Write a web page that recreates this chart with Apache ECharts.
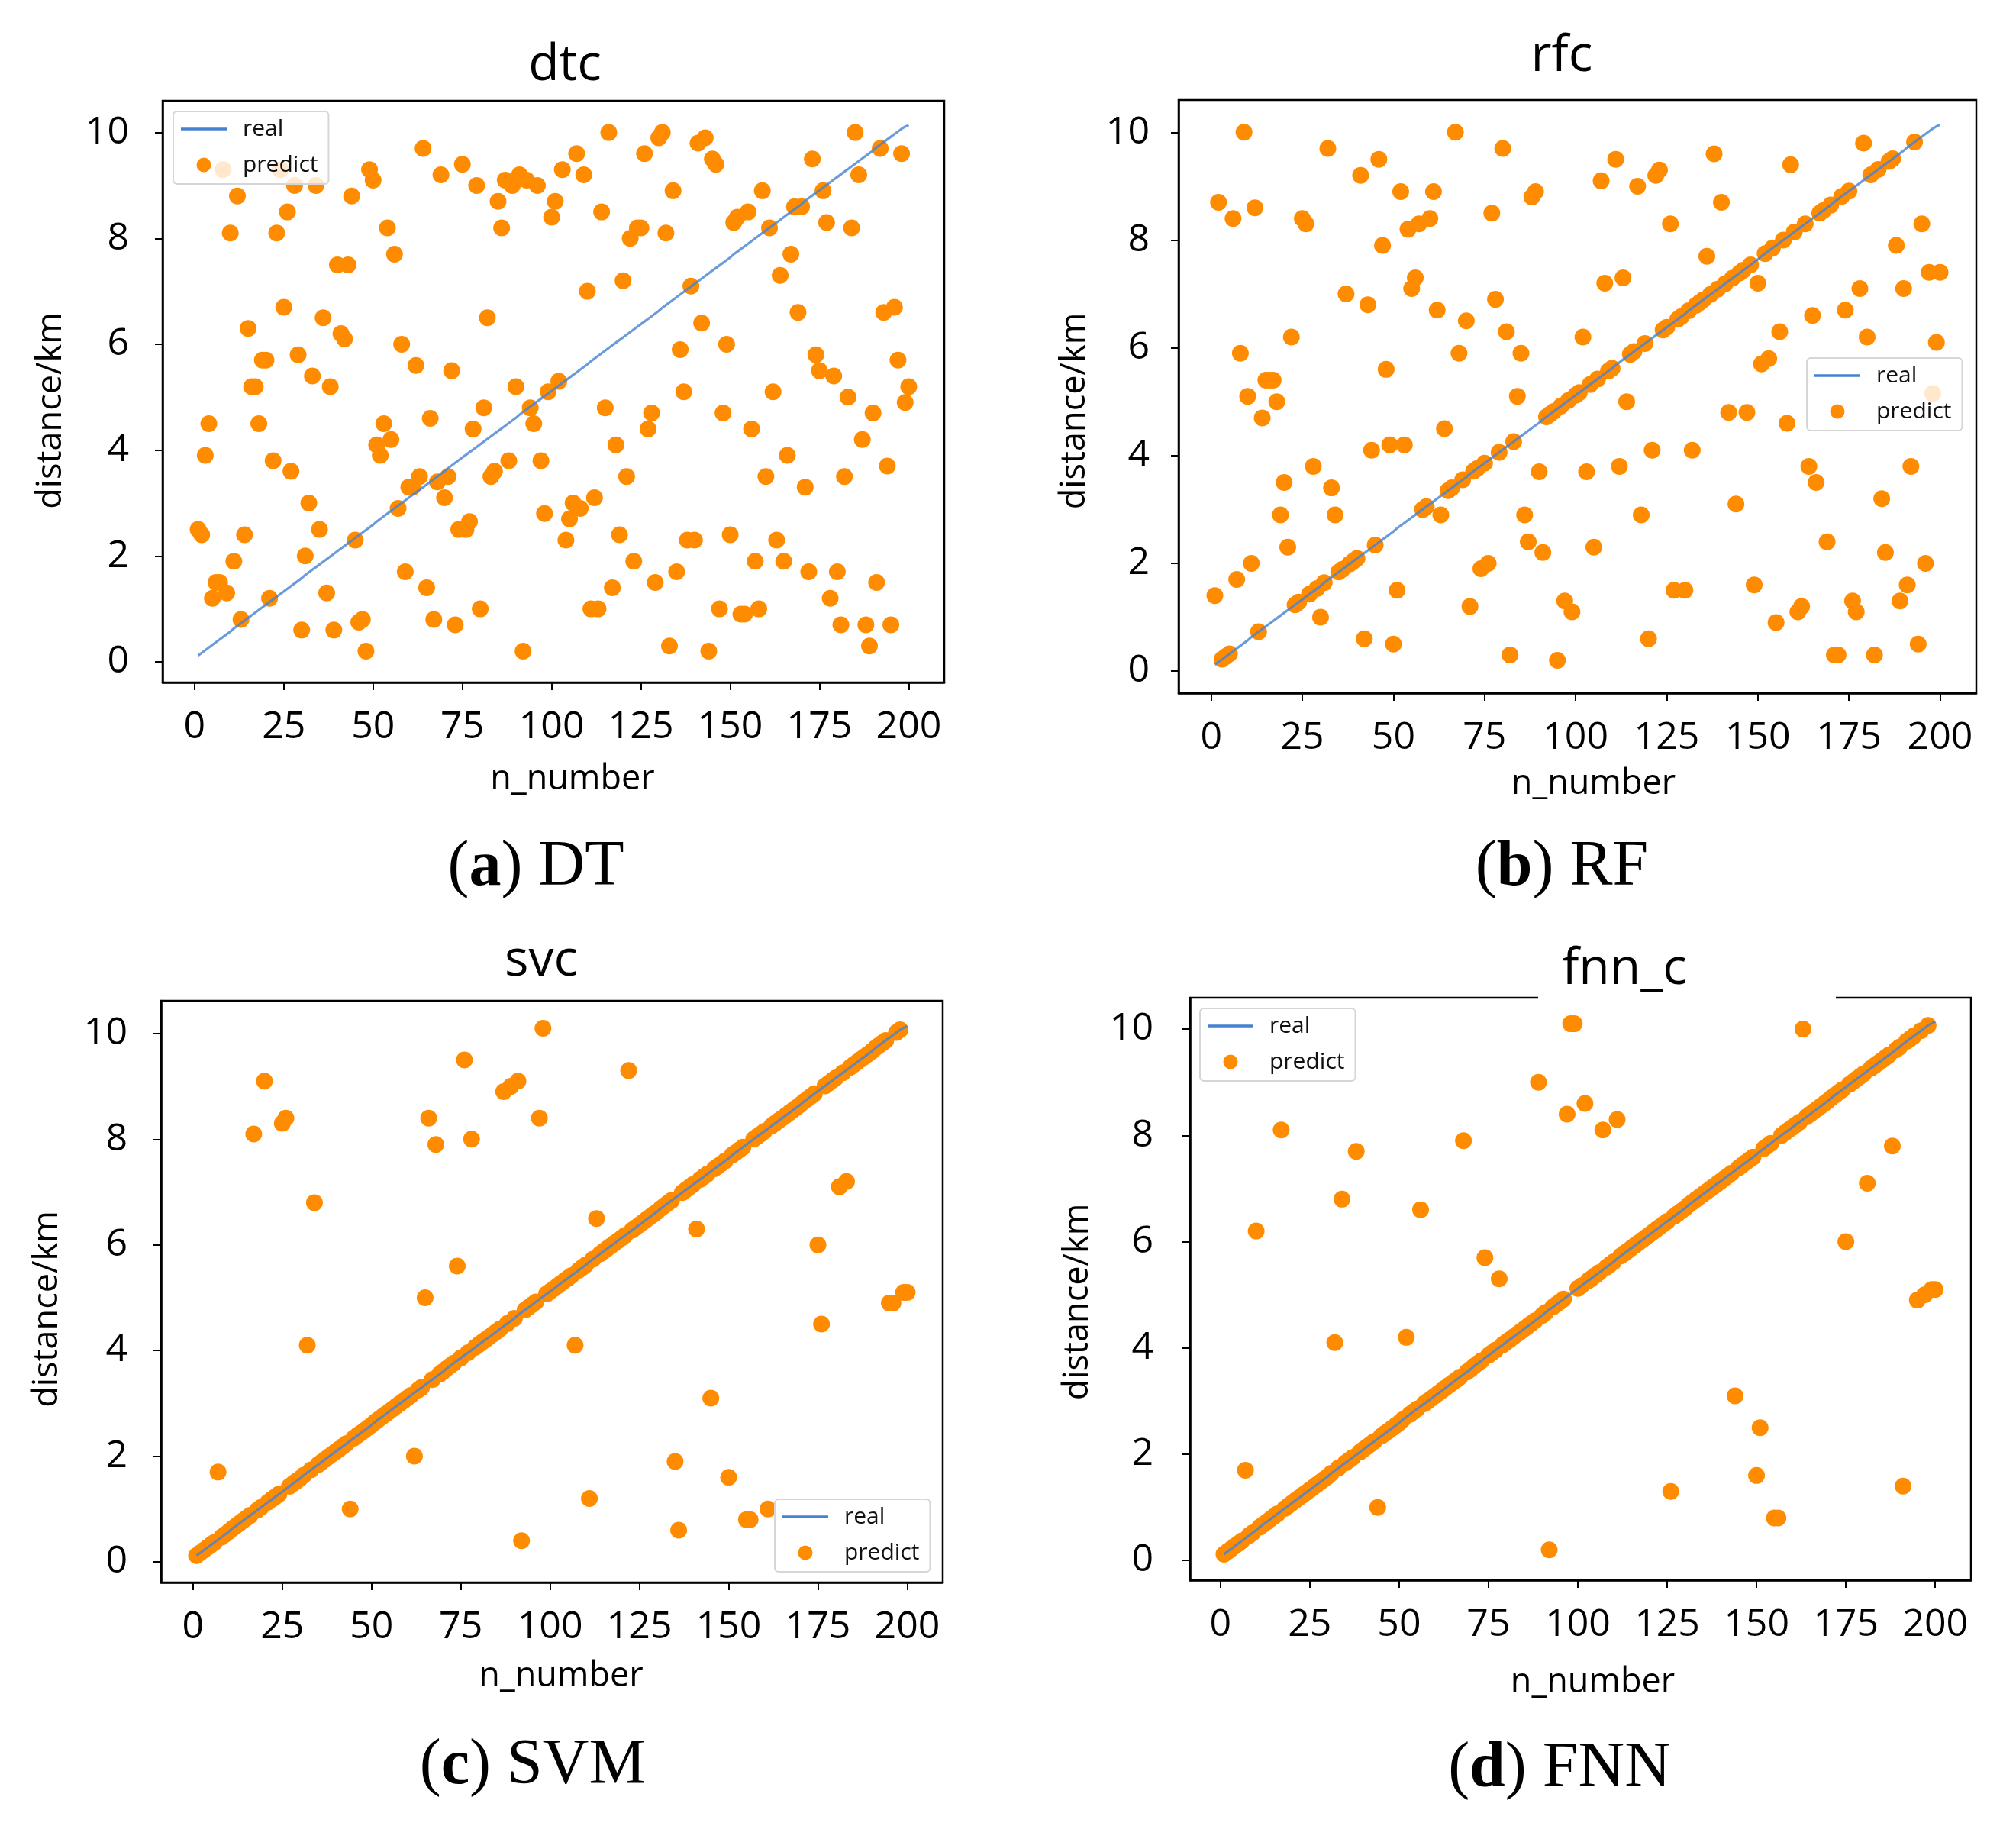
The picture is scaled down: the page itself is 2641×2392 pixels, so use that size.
<!DOCTYPE html>
<html>
<head>
<meta charset="utf-8">
<title>distance prediction</title>
<script src="https://cdn.jsdelivr.net/npm/echarts@6.0.0/dist/echarts.min.js"></script>
<style>
  html, body { margin: 0; padding: 0; background: #fff; }
  #chart { width: 2641px; height: 2392px; }
</style>
</head>
<body>
<div id="chart"></div>
<script>
// tick labels
const xTicks = [0, 25, 50, 75, 100, 125, 150, 175, 200];
const yTicks = [0, 2, 4, 6, 8, 10];

// real distance for n_number 1..200 (the blue line)
const realKm = [
  0.12, 0.17, 0.22, 0.27, 0.32, 0.37, 0.42, 0.47, 0.52, 0.57,
  0.63, 0.68, 0.73, 0.78, 0.83, 0.88, 0.93, 0.98, 1.03, 1.08,
  1.13, 1.18, 1.23, 1.28, 1.33, 1.38, 1.43, 1.48, 1.53, 1.58,
  1.64, 1.69, 1.74, 1.79, 1.84, 1.89, 1.94, 1.99, 2.04, 2.09,
  2.14, 2.19, 2.24, 2.29, 2.34, 2.39, 2.44, 2.49, 2.54, 2.59,
  2.65, 2.70, 2.75, 2.80, 2.85, 2.90, 2.95, 3.00, 3.05, 3.10,
  3.15, 3.20, 3.25, 3.30, 3.35, 3.40, 3.45, 3.50, 3.55, 3.60,
  3.66, 3.71, 3.76, 3.81, 3.86, 3.91, 3.96, 4.01, 4.06, 4.11,
  4.16, 4.21, 4.26, 4.31, 4.36, 4.41, 4.46, 4.51, 4.56, 4.61,
  4.67, 4.72, 4.77, 4.82, 4.87, 4.92, 4.97, 5.02, 5.07, 5.12,
  5.17, 5.22, 5.27, 5.32, 5.37, 5.42, 5.47, 5.52, 5.57, 5.62,
  5.68, 5.73, 5.78, 5.83, 5.88, 5.93, 5.98, 6.03, 6.08, 6.13,
  6.18, 6.23, 6.28, 6.33, 6.38, 6.43, 6.48, 6.53, 6.58, 6.63,
  6.69, 6.74, 6.79, 6.84, 6.89, 6.94, 6.99, 7.04, 7.09, 7.14,
  7.19, 7.24, 7.29, 7.34, 7.39, 7.44, 7.49, 7.54, 7.59, 7.64,
  7.70, 7.75, 7.80, 7.85, 7.90, 7.95, 8.00, 8.05, 8.10, 8.15,
  8.20, 8.25, 8.30, 8.35, 8.40, 8.45, 8.50, 8.55, 8.60, 8.65,
  8.71, 8.76, 8.81, 8.86, 8.91, 8.96, 9.01, 9.06, 9.11, 9.16,
  9.21, 9.26, 9.31, 9.36, 9.41, 9.46, 9.51, 9.56, 9.61, 9.66,
  9.72, 9.77, 9.82, 9.87, 9.92, 9.97, 10.02, 10.07, 10.11, 10.14
];

// dtc: predicted distance for every n_number 1..200
const dtcPredict = [
  2.5, 2.4, 3.9, 4.5, 1.2, 1.5, 1.5, 9.3, 1.3, 8.1,
  1.9, 8.8, 0.8, 2.4, 6.3, 5.2, 5.2, 4.5, 5.7, 5.7,
  1.2, 3.8, 8.1, 9.3, 6.7, 8.5, 3.6, 9.0, 5.8, 0.6,
  2.0, 3.0, 5.4, 9.0, 2.5, 6.5, 1.3, 5.2, 0.6, 7.5,
  6.2, 6.1, 7.5, 8.8, 2.3, 0.75, 0.8, 0.2, 9.3, 9.1,
  4.1, 3.9, 4.5, 8.2, 4.2, 7.7, 2.9, 6.0, 1.7, 3.3,
  3.3, 5.6, 3.5, 9.7, 1.4, 4.6, 0.8, 3.4, 9.2, 3.1,
  3.5, 5.5, 0.7, 2.5, 9.4, 2.5, 2.65, 4.4, 9.0, 1.0,
  4.8, 6.5, 3.5, 3.6, 8.7, 8.2, 9.1, 3.8, 9.0, 5.2,
  9.2, 0.2, 9.1, 4.8, 4.5, 9.0, 3.8, 2.8, 5.1, 8.4,
  8.7, 5.3, 9.3, 2.3, 2.7, 3.0, 9.6, 2.9, 9.2, 7.0,
  1.0, 3.1, 1.0, 8.5, 4.8, 10.0, 1.4, 4.1, 2.4, 7.2,
  3.5, 8.0, 1.9, 8.2, 8.2, 9.6, 4.4, 4.7, 1.5, 9.9,
  10.0, 8.1, 0.3, 8.9, 1.7, 5.9, 5.1, 2.3, 7.1, 2.3,
  9.8, 6.4, 9.9, 0.2, 9.5, 9.4, 1.0, 4.7, 6.0, 2.4,
  8.3, 8.4, 0.9, 0.9, 8.5, 4.4, 1.9, 1.0, 8.9, 3.5,
  8.2, 5.1, 2.3, 7.3, 1.9, 3.9, 7.7, 8.6, 6.6, 8.6,
  3.3, 1.7, 9.5, 5.8, 5.5, 8.9, 8.3, 1.2, 5.4, 1.7,
  0.7, 3.5, 5.0, 8.2, 10.0, 9.2, 4.2, 0.7, 0.3, 4.7,
  1.5, 9.7, 6.6, 3.7, 0.7, 6.7, 5.7, 9.6, 4.9, 5.2
];

// rfc / svc / fnn_c: samples whose prediction is off the real line
const rfcMissN = [
  1, 2, 6, 7, 8, 9, 10, 11, 12, 14, 15, 16, 17, 18, 19, 20, 21, 22, 25, 26,
  28, 30, 32, 33, 34, 37, 41, 42, 43, 44, 46, 47, 48, 49, 50, 51, 52, 53, 54, 55,
  56, 57, 60, 61, 62, 63, 64, 67, 68, 70, 71, 74, 76, 77, 78, 80, 81, 82, 84, 85,
  86, 87, 88, 89, 90, 91, 95, 97, 99, 102, 103, 105, 107, 108, 111, 112, 113, 114, 117, 118,
  120, 121, 122, 123, 126, 127, 130, 132, 136, 138, 140, 142, 144, 147, 149, 150, 151, 153, 155, 156,
  158, 159, 161, 162, 164, 165, 166, 169, 171, 172, 174, 176, 177, 178, 179, 180, 182, 184, 185, 188,
  189, 190, 191, 192, 194, 195, 196, 197, 198, 199, 200
];
const rfcMissKm = [
  1.4, 8.7, 8.4, 1.7, 5.9, 10.0, 5.1, 2.0, 8.6, 4.7, 5.4, 5.4, 5.4, 5.0, 2.9, 3.5, 2.3, 6.2, 8.4, 8.3,
  3.8, 1.0, 9.7, 3.4, 2.9, 7.0, 9.2, 0.6, 6.8, 4.1, 9.5, 7.9, 5.6, 4.2, 0.5, 1.5, 8.9, 4.2, 8.2, 7.1,
  7.3, 8.3, 8.4, 8.9, 6.7, 2.9, 4.5, 10.0, 5.9, 6.5, 1.2, 1.9, 2.0, 8.5, 6.9, 9.7, 6.3, 0.3, 5.1, 5.9,
  2.9, 2.4, 8.8, 8.9, 3.7, 2.2, 0.2, 1.3, 1.1, 6.2, 3.7, 2.3, 9.1, 7.2, 9.5, 3.8, 7.3, 5.0, 9.0, 2.9,
  0.6, 4.1, 9.2, 9.3, 8.3, 1.5, 1.5, 4.1, 7.7, 9.6, 8.7, 4.8, 3.1, 4.8, 1.6, 7.2, 5.7, 5.8, 0.9, 6.3,
  4.6, 9.4, 1.1, 1.2, 3.8, 6.6, 3.5, 2.4, 0.3, 0.3, 6.7, 1.3, 1.1, 7.1, 9.8, 6.2, 0.3, 3.2, 2.2, 7.9,
  1.3, 7.1, 1.6, 3.8, 0.5, 8.3, 2.0, 7.4, 5.15, 6.1, 7.4
];

const svcMissN = [
  7, 17, 20, 25, 26, 32, 34, 44, 62, 65, 66, 68, 74, 76, 78, 87, 89, 91, 92, 97,
  98, 107, 111, 113, 122, 135, 136, 141, 145, 150, 155, 156, 161, 175, 176, 181, 183, 195, 196, 199, 200
];
const svcMissKm = [
  1.7, 8.1, 9.1, 8.3, 8.4, 4.1, 6.8, 1.0, 2.0, 5.0, 8.4, 7.9, 5.6, 9.5, 8.0, 8.9, 9.0, 9.1, 0.4, 8.4,
  10.1, 4.1, 1.2, 6.5, 9.3, 1.9, 0.6, 6.3, 3.1, 1.6, 0.8, 0.8, 1.0, 6.0, 4.5, 7.1, 7.2, 4.9, 4.9, 5.1, 5.1
];

const fnnMissN = [
  7, 10, 17, 32, 34, 38, 44, 52, 56, 68, 74, 78, 89, 92, 97, 98, 99, 102, 107, 111,
  126, 144, 150, 151, 155, 156, 163, 175, 181, 188, 191, 195, 197, 199, 200
];
const fnnMissKm = [
  1.7, 6.2, 8.1, 4.1, 6.8, 7.7, 1.0, 4.2, 6.6, 7.9, 5.7, 5.3, 9.0, 0.2, 8.4, 10.1, 10.1, 8.6, 8.1, 8.3,
  1.3, 3.1, 1.6, 2.5, 0.8, 0.8, 10.0, 6.0, 7.1, 7.8, 1.4, 4.9, 5.0, 5.1, 5.1
];

function withMisses(missN, missKm) {
  const out = realKm.slice();
  missN.forEach((n, i) => { out[n - 1] = missKm[i]; });
  return out;
}
const toPoints = arr => arr.map((v, i) => [i + 1, v]);

const SANS = '"Open Sans", "Noto Sans", sans-serif';
const SERIF = '"Liberation Serif", "DejaVu Serif", serif';
const ORANGE = '#ff8c00';
const BLUE = '#4682d2';

const panels = [
  { title: 'dtc', letter: 'a', model: 'DT', predict: dtcPredict,
    grid: { left: 213, top: 132, width: 1024, height: 762 }, x: [-8.95, 209.95], y: [-0.39, 10.6],
    legend: { left: 227, top: 146 }, titleXY: [740, 86], capXY: [702, 1137],
    yMargin: 44, yGap: 123, yShift: 25, xGap: 105, xShift: 25 },
  { title: 'rfc', letter: 'b', model: 'RF', predict: withMisses(rfcMissN, rfcMissKm),
    grid: { left: 1544, top: 131, width: 1045, height: 777 }, x: [-8.95, 209.95], y: [-0.41, 10.6],
    legend: { left: 2367, top: 469 }, titleXY: [2046, 74], capXY: [2046, 1137],
    yMargin: 38, yGap: 113, yShift: 19, xGap: 97, xShift: 21 },
  { title: 'svc', letter: 'c', model: 'SVM', predict: withMisses(svcMissN, svcMissKm),
    grid: { left: 211, top: 1311, width: 1024, height: 762 }, x: [-8.95, 209.95], y: [-0.39, 10.62],
    legend: { left: 1015, top: 1964 }, titleXY: [709, 1259], capXY: [698, 2314],
    yMargin: 44, yGap: 126, yShift: 23, xGap: 101, xShift: 12 },
  { title: 'fnn_c', letter: 'd', model: 'FNN', predict: withMisses(fnnMissN, fnnMissKm),
    grid: { left: 1559, top: 1307, width: 1023, height: 763 }, x: [-8.5, 210], y: [-0.37, 10.59],
    legend: { left: 1572, top: 1321 }, titleXY: [2128, 1270], capXY: [2043, 2318],
    yMargin: 48, yGap: 124, yShift: 17, xGap: 112, xShift: 16,
    titleMask: { x: 2015, y: 1222, width: 390, height: 90 } }
];

const grid = [], xAxis = [], yAxis = [], series = [], legend = [], graphic = [];

panels.forEach((p, i) => {
  grid.push(Object.assign({ show: true, borderColor: '#000', borderWidth: 2.5, backgroundColor: '#fff' }, p.grid));

  xAxis.push({
    type: 'value', gridIndex: i, min: p.x[0], max: p.x[1],
    name: 'n_number', nameLocation: 'middle', nameGap: p.xGap,
    nameTextStyle: { fontFamily: SANS, fontSize: 45, color: '#000', padding: [0, 0, 0, p.xShift * 2] },
    axisLine: { show: true, onZero: false, lineStyle: { color: '#000', width: 2.5 } },
    axisTick: { show: true, length: 10, lineStyle: { color: '#000', width: 2 }, customValues: xTicks },
    axisLabel: { customValues: xTicks, margin: 34, fontFamily: SANS, fontSize: 50, color: '#000' },
    splitLine: { show: false }
  });

  yAxis.push({
    type: 'value', gridIndex: i, min: p.y[0], max: p.y[1],
    name: 'distance/km', nameLocation: 'middle', nameGap: p.yGap,
    nameTextStyle: { fontFamily: SANS, fontSize: 45, color: '#000', padding: [0, p.yShift * 2, 0, 0] },
    axisLine: { show: true, onZero: false, lineStyle: { color: '#000', width: 2.5 } },
    axisTick: { show: true, length: 10, lineStyle: { color: '#000', width: 2 }, customValues: yTicks },
    axisLabel: { customValues: yTicks, margin: p.yMargin, fontFamily: SANS, fontSize: 50, color: '#000' },
    splitLine: { show: false }
  });

  series.push({
    name: 'predict', type: 'scatter', xAxisIndex: i, yAxisIndex: i,
    data: toPoints(p.predict), symbol: 'circle', symbolSize: 22,
    itemStyle: { color: ORANGE, opacity: 1 }, z: 2, silent: true
  });
  series.push({
    name: 'real', type: 'line', xAxisIndex: i, yAxisIndex: i,
    data: toPoints(realKm), showSymbol: false, symbol: 'none', color: BLUE,
    lineStyle: { color: BLUE, width: 3.2, opacity: 0.8 }, z: 3, silent: true
  });

  legend.push({
    left: p.legend.left, top: p.legend.top, orient: 'vertical',
    data: [
      { name: 'real', icon: 'path://M0,0H60V3.4H0Z', itemStyle: { color: BLUE } },
      { name: 'predict', icon: 'circle', itemStyle: { color: ORANGE, opacity: 1 } }
    ],
    itemWidth: 60, itemHeight: 19, itemGap: 17, padding: [8, 14, 10, 10],
    backgroundColor: 'rgba(255,255,255,0.8)', borderColor: '#d6d6d6', borderWidth: 2, borderRadius: 5,
    textStyle: { fontFamily: SANS, fontSize: 30, color: '#111', lineHeight: 30, padding: [0, 0, 0, 16] },
    selectedMode: false, z: 10
  });

  if (p.titleMask) {
    graphic.push({ type: 'rect', shape: p.titleMask, style: { fill: '#fff' }, z: 100, silent: true });
  }
  graphic.push({
    type: 'text', x: p.titleXY[0], y: p.titleXY[1], z: 101, silent: true,
    style: { text: p.title, fontFamily: SANS, fontSize: 66, fill: '#000', textAlign: 'center', textVerticalAlign: 'middle' }
  });
  graphic.push({
    type: 'text', x: p.capXY[0], y: p.capXY[1], z: 101, silent: true,
    style: {
      text: '{n|(}{b|' + p.letter + '}{n|) ' + p.model + '}',
      textAlign: 'center', textVerticalAlign: 'middle', fill: '#000',
      rich: {
        n: { fontFamily: SERIF, fontSize: 84, fill: '#000' },
        b: { fontFamily: SERIF, fontSize: 84, fontWeight: 'bold', fill: '#000' }
      }
    }
  });
});

const chart = echarts.init(document.getElementById('chart'), null, { renderer: 'canvas' });
chart.setOption({
  animation: false,
  backgroundColor: '#fff',
  grid, xAxis, yAxis, series, legend, graphic
});
</script>
</body>
</html>
